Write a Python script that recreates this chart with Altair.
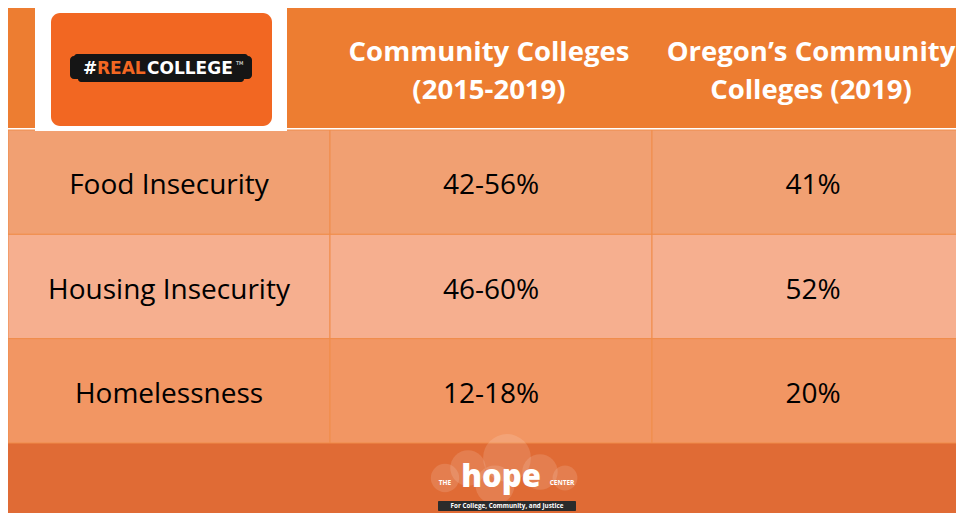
import altair as alt
import pandas as pd

# ---- data ----
categories = ["Food Insecurity", "Housing Insecurity", "Homelessness"]
cc_values = ["42-56%", "46-60%", "12-18%"]
oregon_values = ["41%", "52%", "20%"]
col_keys = ["label", "cc", "oregon"]
header_cols = ["cc", "oregon"]
header_line1 = ["Community Colleges", "Oregon’s Community"]
header_line2 = ["(2015-2019)", "Colleges (2019)"]
row_colors = ["#F1A072", "#F6AF8F", "#F29663"]

rows = []
for cat, v1, v2 in zip(categories, cc_values, oregon_values):
    rows.append({"row": cat, "col": "label", "text": cat})
    rows.append({"row": cat, "col": "cc", "text": v1})
    rows.append({"row": cat, "col": "oregon", "text": v2})
cells = pd.DataFrame(rows)
hdr = pd.DataFrame({"col": header_cols, "l1": header_line1, "l2": header_line2})
one = pd.DataFrame({"k": [0]})

W, H = 948, 505

X = alt.X("col:N", scale=alt.Scale(domain=col_keys, range=[0, 966], paddingInner=0, paddingOuter=0), axis=None)
Y = alt.Y("row:N", scale=alt.Scale(domain=categories, range=[122, 435], paddingInner=0, paddingOuter=0), axis=None)


def box(x, x2, y, y2, **kw):
    return alt.Chart(one).mark_rect(**kw).encode(
        x=alt.value(x), x2=alt.value(x2), y=alt.value(y), y2=alt.value(y2))


def label(txt, x, y, **kw):
    return alt.Chart(one).mark_text(text=txt, **kw).encode(x=alt.value(x), y=alt.value(y))


def dot(x, y, r):
    return alt.Chart(one).mark_circle(color="white", opacity=0.13, size=3.1416 * r * r).encode(
        x=alt.value(x), y=alt.value(y))


header_bg = box(0, W, 0, 120, fill="#ED7D31")
white_line = alt.Chart(one).mark_rule(color="white", strokeWidth=2).encode(
    x=alt.value(0), x2=alt.value(W), y=alt.value(121))
footer_bg = box(0, W, 435, H, fill="#E06B35")

cell_rects = alt.Chart(cells).mark_rect(stroke="#F08C4A", strokeWidth=1).encode(
    x=X, y=Y,
    fill=alt.Fill("row:N", scale=alt.Scale(domain=categories, range=row_colors), legend=None))

cell_text = alt.Chart(cells).mark_text(
    font="Open Sans", fontSize=28, color="black", baseline="alphabetic", dy=12).encode(
    x=X, y=Y, text="text:N")

hf = dict(font="Open Sans", fontSize=27.5, fontWeight="bold", color="white", baseline="alphabetic", dx=-2)
hdr1 = alt.Chart(hdr).mark_text(**hf).encode(x=X, y=alt.value(53), text="l1:N")
hdr2 = alt.Chart(hdr).mark_text(**hf).encode(x=X, y=alt.value(91), text="l2:N")

# #REALCOLLEGE logo
logo_white = box(27, 279, 0, 123, fill="white")
logo_orange = box(43, 264, 5, 118, fill="#F26722", cornerRadius=9)
brush = box(62, 244, 48, 71, fill="#151515", cornerRadius=4)
brush2 = box(66, 240, 46, 52, fill="#151515", cornerRadius=3)
brush3 = box(70, 236, 68, 74, fill="#151515", cornerRadius=3)
lf = dict(font="DejaVu Sans", fontSize=17, fontWeight="bold", align="left", baseline="alphabetic")
t_hash = label("#", 75, 66, color="white", **lf)
t_real = label("REAL", 89, 66, color="#F26722", **lf)
t_college = label("COLLEGE", 139, 66, color="white", **lf)
t_tm = label("TM", 228, 55, color="white", font="DejaVu Sans", fontSize=5, align="left")

# hope center logo
clouds = [dot(437, 470, 16), dot(460, 460, 20), dot(499, 450, 27), dot(487, 477, 22),
          dot(532, 464, 20), dot(557, 470, 14)]
t_hope = label("hope", 493, 479, color="white", font="Open Sans", fontSize=31, fontWeight=800,
               baseline="alphabetic")
t_the = label("THE", 437, 475, color="white", font="Open Sans", fontSize=6.5, fontWeight="bold")
t_center = label("CENTER", 554, 475, color="white", font="Open Sans", fontSize=6.5, fontWeight="bold")
tag_box = box(430, 568, 493, 503, fill="#2B2B2B", cornerRadius=1)
t_tag = label("For College, Community, and Justice", 499, 498, color="white", font="Open Sans",
              fontSize=6.3, fontWeight="bold")

chart = alt.layer(
    header_bg, white_line, footer_bg, cell_rects, cell_text, hdr1, hdr2,
    logo_white, logo_orange, brush, brush2, brush3, t_hash, t_real, t_college, t_tm,
    *clouds, t_hope, t_the, t_center, tag_box, t_tag,
).properties(
    width=W, height=H, padding=0, background="white",
    autosize=alt.AutoSizeParams(type="none"),
).configure_view(stroke=None)

chart.save("out.html", embed_options={"renderer": "svg", "actions": False})
